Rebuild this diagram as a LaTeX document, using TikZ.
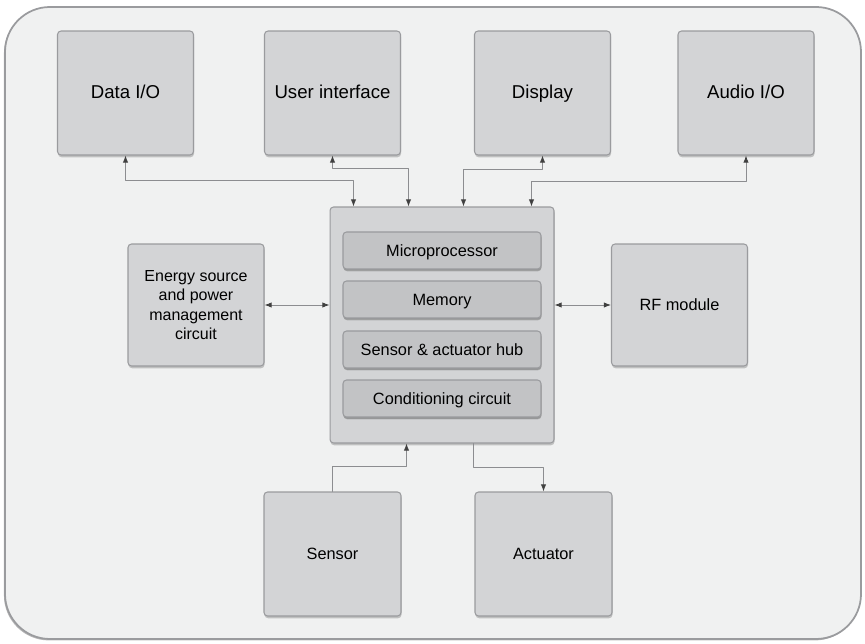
\documentclass[tikz,border=0pt]{standalone}
\usepackage{fontspec}
\setmainfont{Liberation Sans}
\usetikzlibrary{calc, arrows.meta, shadows}

\definecolor{fondo}{HTML}{F0F1F1}
\definecolor{caja}{HTML}{D3D4D6}
\definecolor{cajaint}{HTML}{C2C3C5}
\definecolor{borde}{HTML}{9A9B9E}
\definecolor{linea}{HTML}{8C8D90}

\begin{document}
\begin{tikzpicture}[
	% unidades en pixeles de la imagen (eje y hacia abajo)
	x = 0.02cm, y = -0.02cm,
	line join = round, line cap = round,
	% 	a. bloque exterior
	bloque/.style = {
		draw = borde, fill = caja,
		line width = 0.6pt,
		rounded corners = 2pt,
		inner sep = 0pt, align = center,
		text height = 1.6ex, text depth = 0.4ex,
		minimum width = 2.72cm, minimum height = 2.48cm,
		font = \fontsize{10.6}{12.7}\selectfont,
		drop shadow = {shadow xshift = 0.3pt, shadow yshift = -1.3pt,
			fill = black!60, opacity = 0.35}
	},
	%	b. bloque lateral
	lateral/.style = {
		bloque,
		minimum height = 2.44cm,
		font = \fontsize{9.3}{11}\selectfont
	},
	%	c. bloque interior del nodo central
	interno/.style = {
		bloque, fill = cajaint,
		minimum width = 3.96cm, minimum height = 0.74cm,
		font = \fontsize{9.3}{11}\selectfont,
		drop shadow = {shadow xshift = 0.2pt, shadow yshift = -1pt,
			fill = black!60, opacity = 0.3}
	},
	%	d. conexiones
	enlace/.style = {
		draw = linea, line width = 0.5pt,
		arrows = {Latex[length = 4pt, width = 3pt, fill = black!75, color = black!75]-Latex[length = 4pt, width = 3pt, fill = black!75, color = black!75]}
	},
	sentido/.style = {
		draw = linea, line width = 0.5pt,
		arrows = {-Latex[length = 4pt, width = 3pt, fill = black!75, color = black!75]}
	},
]

	% marco de la imagen
	\useasboundingbox (0,0) rectangle (865,644);

	% recuadro de fondo
	\draw[draw = borde, fill = fondo, line width = 1pt, rounded corners = 0.9cm,
		drop shadow = {shadow xshift = -0.6pt, shadow yshift = -0.8pt,
			fill = black!70, opacity = 0.4}]
		(5,7) rectangle (861,639);

	% bloques superiores
	\node[bloque] (data)  at (125.5,93) {Data I/O};
	\node[bloque] (ui)    at (332.5,93) {User interface};
	\node[bloque] (disp)  at (542.5,93) {Display};
	\node[bloque] (audio) at (746,93)   {Audio I/O};

	% bloque central y sus componentes
	\node[bloque, minimum width = 4.48cm, minimum height = 4.72cm] (hub) at (442,325) {};
	\node[interno] (micro) at (442,250.5) {Microprocessor};
	\node[interno] (mem)   at (442,299.5) {Memory};
	\node[interno] (sah)   at (442,349.5) {Sensor \& actuator hub};
	\node[interno] (cond)  at (442,398.5) {Conditioning circuit};

	% bloques laterales
	\node[lateral, text height = {}, text depth = {},
		font = \fontsize{9.1}{11}\selectfont] (energy) at (196,305)
		{Energy source\\and power\\management\\circuit};
	\node[lateral] (rf) at (679.5,305) {RF module};

	% bloques inferiores
	\node[lateral, minimum width = 2.74cm, minimum height = 2.48cm] (sensor) at (332.5,554) {Sensor};
	\node[lateral, minimum width = 2.74cm, minimum height = 2.48cm] (act)    at (543.5,554) {Actuator};

	% puntos de llegada sobre el bloque central
	\coordinate (h1) at ($(hub.north west)+(24,0)$);
	\coordinate (h2) at ($(hub.north west)+(79,0)$);
	\coordinate (h3) at ($(hub.north west)+(134,0)$);
	\coordinate (h4) at ($(hub.north west)+(202,0)$);
	\coordinate (b1) at ($(hub.south west)+(77,0)$);
	\coordinate (b2) at ($(hub.south west)+(144,0)$);

	% conexiones superiores
	\draw[enlace] (data.south)  -- ++(0,25) -| (h1);
	\draw[enlace] (ui.south)    -- ++(0,13) -| (h2);
	\draw[enlace] (disp.south)  -- ++(0,14) -| (h3);
	\draw[enlace] (audio.south) -- ++(0,26) -| (h4);

	% conexiones laterales
	\draw[enlace] (energy.east) -- (energy.east -| hub.west);
	\draw[enlace] (hub.east |- rf.west) -- (rf.west);

	% conexiones inferiores
	\draw[sentido] (sensor.north) -- ++(0,-25) -| (b1);
	\draw[sentido] (b2) -- ++(0,24) -| (act.north);

\end{tikzpicture}
\end{document}
